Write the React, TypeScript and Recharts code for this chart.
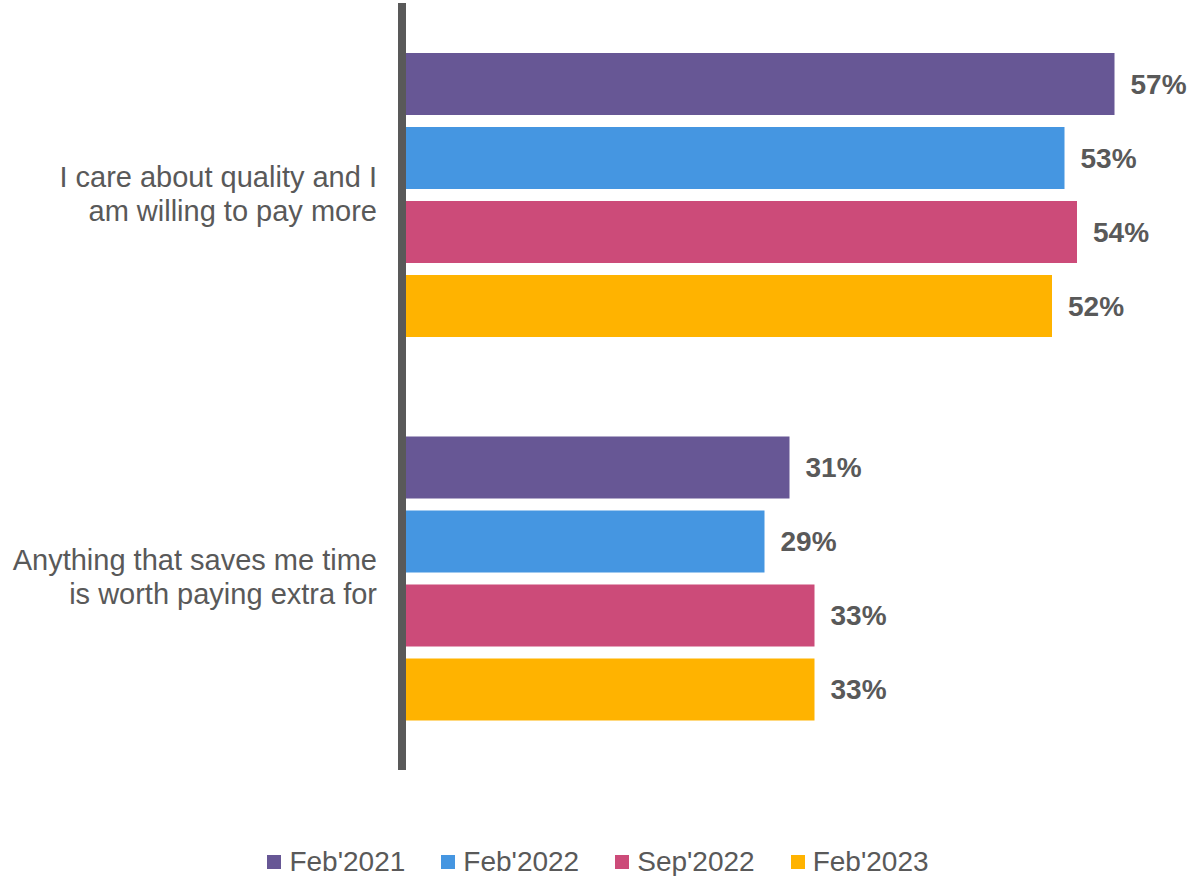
import { BarChart, Bar, XAxis, YAxis, Legend, LabelList } from 'recharts';

const categories = [
  'I care about quality and I am willing to pay more',
  'Anything that saves me time is worth paying extra for',
];
const seriesNames = ["Feb'2021", "Feb'2022", "Sep'2022", "Feb'2023"];
const feb2021 = [57, 31];
const feb2022 = [53, 29];
const sep2022 = [54, 33];
const feb2023 = [52, 33];

const colors = ['#675795', '#4596E1', '#CC4B79', '#FFB300'];
const textColor = '#595959';
const font = '"Liberation Sans", Arial, sans-serif';

const data = categories.map((name, i) => ({
  name,
  s0: feb2021[i],
  s1: feb2022[i],
  s2: sep2022[i],
  s3: feb2023[i],
}));

function wrap(label: string, maxChars: number) {
  const lines: string[] = [];
  let cur = '';
  for (const w of label.split(' ')) {
    const next = cur ? cur + ' ' + w : w;
    if (next.length > maxChars && cur) {
      lines.push(cur);
      cur = w;
    } else {
      cur = next;
    }
  }
  if (cur) lines.push(cur);
  return lines;
}

const CategoryTick = (props: any) => {
  const { x, y, payload } = props;
  const lines = wrap(payload.value, 28);
  const lineHeight = 34;
  const first = y - ((lines.length - 1) * lineHeight) / 2 + 9;
  return (
    <text x={x} y={first} textAnchor="end" fill={textColor} fontSize={29} fontFamily={font}>
      {lines.map((l, i) => (
        <tspan key={i} x={x} y={first + i * lineHeight}>
          {l}
        </tspan>
      ))}
    </text>
  );
};

const LegendContent = () => (
  <div
    style={{
      display: 'flex',
      justifyContent: 'center',
      alignItems: 'center',
      gap: 36,
      fontFamily: font,
      fontSize: 28,
      lineHeight: '28px',
      color: textColor,
    }}
  >
    {seriesNames.map((n, i) => (
      <div key={n} style={{ display: 'flex', alignItems: 'center' }}>
        <span style={{ width: 14, height: 14, background: colors[i], marginRight: 8, display: 'inline-block' }} />
        <span>{n}</span>
      </div>
    ))}
  </div>
);

export default function App() {
  return (
    <div style={{ position: 'absolute', left: 0, top: 0, width: 1188, height: 876, background: '#fff' }}>
      <BarChart
        width={1188}
        height={876}
        data={data}
        layout="vertical"
        margin={{ top: 3, right: 36, left: 0, bottom: 106 }}
        barSize={62}
        barGap={12}
      >
        <XAxis type="number" domain={[0, 60]} hide />
        {['s0', 's1', 's2', 's3'].map((k, i) => (
          <Bar key={k} dataKey={k} name={seriesNames[i]} fill={colors[i]} isAnimationActive={false}>
            <LabelList
              dataKey={k}
              position="right"
              offset={16}
              formatter={(v: any) => `${v}%`}
              fill={textColor}
              fontSize={28}
              fontWeight="bold"
              fontFamily={font}
            />
          </Bar>
        ))}
        <YAxis
          type="category"
          dataKey="name"
          width={402}
          tickSize={0}
          tickMargin={25}
          tickLine={false}
          axisLine={{ stroke: textColor, strokeWidth: 8 }}
          tick={<CategoryTick />}
        />
        <Legend
          layout="horizontal"
          align="center"
          verticalAlign="middle"
          content={<LegendContent />}
          wrapperStyle={{ top: 848, left: 4, width: 1188 }}
        />
      </BarChart>
    </div>
  );
}
